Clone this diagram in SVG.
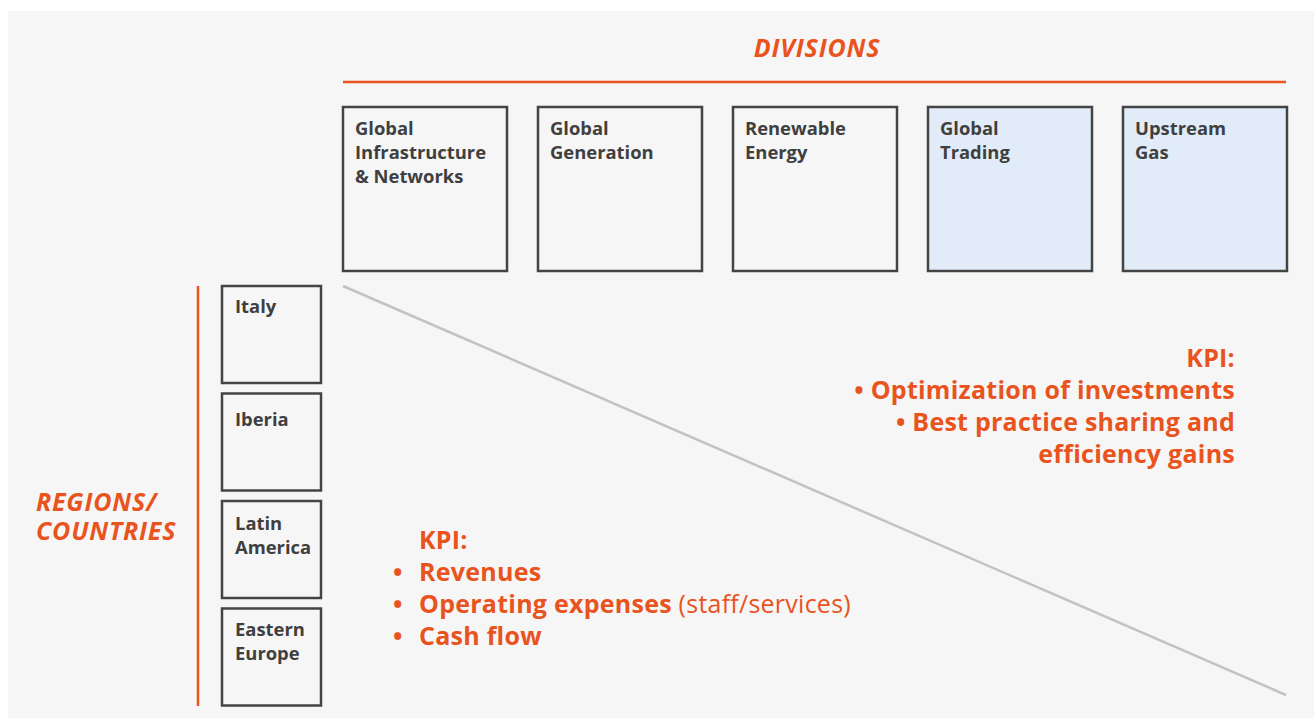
<svg xmlns="http://www.w3.org/2000/svg" width="1314" height="720" viewBox="0 0 1314 720">
<style>
.box{fill:#f6f6f6;stroke:#444;stroke-width:2.5}
.blue{fill:#e2ecf8}
.lbl{font-family:"Open Sans","Noto Sans",sans-serif;font-weight:bold;font-size:18.4px;fill:#3f3f3f}
.or{font-family:"Open Sans","Noto Sans",sans-serif;font-weight:bold;fill:#e9531d}
.hd{font-style:italic;font-size:25px;letter-spacing:0.8px}
.kpi{font-size:25px;letter-spacing:0.25px}
.reg{font-weight:normal}
</style>
<rect x="0" y="0" width="1314" height="720" fill="#ffffff"/>
<rect x="8" y="11" width="1306" height="707" fill="#f6f6f6"/>
<text class="or hd" x="817" y="57" text-anchor="middle">DIVISIONS</text>
<line x1="343" y1="82" x2="1286" y2="82" stroke="#e9531d" stroke-width="2.5"/>
<line x1="198" y1="286" x2="198" y2="706" stroke="#e9531d" stroke-width="2.5"/>
<text class="or hd" x="36" y="511">REGIONS/</text>
<text class="or hd" x="36" y="540">COUNTRIES</text>
<g id="connectors">
<line x1="343" y1="286" x2="1286" y2="695" stroke="#c2c2c2" stroke-width="2.5"/>
</g>
<g id="div1"><rect class="box" x="343" y="107" width="164" height="164"/><text class="lbl" x="355" y="135">Global</text><text class="lbl" x="355" y="159">Infrastructure</text><text class="lbl" x="355" y="183">&amp; Networks</text></g>
<g id="div2"><rect class="box" x="538" y="107" width="164" height="164"/><text class="lbl" x="550" y="135">Global</text><text class="lbl" x="550" y="159">Generation</text></g>
<g id="div3"><rect class="box" x="733" y="107" width="164" height="164"/><text class="lbl" x="745" y="135">Renewable</text><text class="lbl" x="745" y="159">Energy</text></g>
<g id="div4"><rect class="box blue" x="928" y="107" width="164" height="164"/><text class="lbl" x="940" y="135">Global</text><text class="lbl" x="940" y="159">Trading</text></g>
<g id="div5"><rect class="box blue" x="1123" y="107" width="164" height="164"/><text class="lbl" x="1135" y="135">Upstream</text><text class="lbl" x="1135" y="159">Gas</text></g>
<g id="reg1"><rect class="box" x="222" y="286" width="99" height="97"/><text class="lbl" x="235" y="313">Italy</text></g>
<g id="reg2"><rect class="box" x="222" y="393.5" width="99" height="97"/><text class="lbl" x="235" y="426">Iberia</text></g>
<g id="reg3"><rect class="box" x="222" y="501" width="99" height="97"/><text class="lbl" x="235" y="530">Latin</text><text class="lbl" x="235" y="554">America</text></g>
<g id="reg4"><rect class="box" x="222" y="608.5" width="99" height="97"/><text class="lbl" x="235" y="636">Eastern</text><text class="lbl" x="235" y="660">Europe</text></g>
<g id="kpi-right">
<text class="or kpi" x="1235" y="367" text-anchor="end">KPI:</text>
<text class="or kpi" x="1235" y="399" text-anchor="end">• Optimization of investments</text>
<text class="or kpi" x="1235" y="431" text-anchor="end">• Best practice sharing and</text>
<text class="or kpi" x="1235" y="463" text-anchor="end">efficiency gains</text>
</g>
<g id="kpi-left">
<text class="or kpi" x="419" y="549">KPI:</text>
<text class="or kpi" x="393" y="581">•</text><text class="or kpi" x="419" y="581">Revenues</text>
<text class="or kpi" x="393" y="613">•</text><text class="or kpi" x="419" y="613">Operating expenses <tspan class="reg">(staff/services)</tspan></text>
<text class="or kpi" x="393" y="645">•</text><text class="or kpi" x="419" y="645">Cash flow</text>
</g>
</svg>
